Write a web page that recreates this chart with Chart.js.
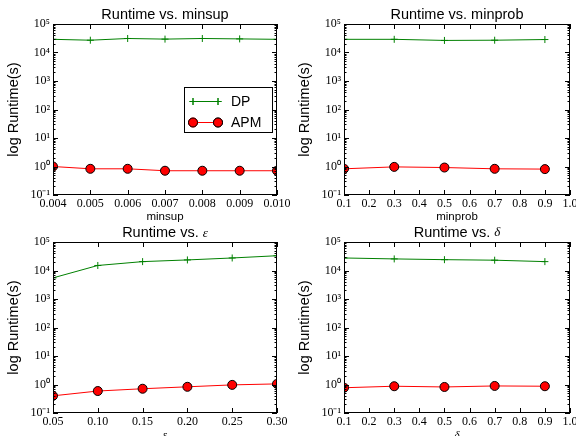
<!DOCTYPE html>
<html>
<head>
<meta charset="utf-8">
<script src="https://cdn.jsdelivr.net/npm/chart.js@4.4.1/dist/chart.umd.min.js"></script>
<style>
  html, body { margin: 0; padding: 0; background: #fff; }
  #wrap { position: relative; width: 576px; height: 436px; overflow: hidden; }
  #wrap canvas { position: absolute; left: 0; top: 0; }
</style>
</head>
<body>
<div id="wrap">
  <canvas id="c1" width="576" height="436"></canvas>
  <canvas id="c2" width="576" height="436"></canvas>
  <canvas id="c3" width="576" height="436"></canvas>
  <canvas id="c4" width="576" height="436"></canvas>
</div>
<script>
// data
const minsupX = [0.004, 0.005, 0.006, 0.007, 0.008, 0.009, 0.010];
const minsupDP = [29000, 27000, 31000, 29500, 31000, 30000, 29000];
const minsupAPM = [1.0, 0.83, 0.83, 0.71, 0.71, 0.71, 0.71];

const minprobX = [0.1, 0.3, 0.5, 0.7, 0.9];
const minprobDP = [29000, 29000, 26500, 27000, 28500];
const minprobAPM = [0.83, 0.97, 0.92, 0.83, 0.81];

const epsX = [0.05, 0.10, 0.15, 0.20, 0.25, 0.30];
const epsDP = [5500, 15000, 20500, 23500, 27500, 33000];
const epsAPM = [0.40, 0.59, 0.71, 0.83, 0.97, 1.05];

const deltaX = [0.1, 0.3, 0.5, 0.7, 0.9];
const deltaDP = [27500, 25500, 24000, 23000, 20500];
const deltaAPM = [0.77, 0.87, 0.82, 0.89, 0.87];

// tick values
const minsupTicks = [0.004, 0.005, 0.006, 0.007, 0.008, 0.009, 0.010];
const probTicks = [0.1, 0.2, 0.3, 0.4, 0.5, 0.6, 0.7, 0.8, 0.9, 1.0];
const epsTicks = [0.05, 0.10, 0.15, 0.20, 0.25, 0.30];
const logTicks = [0.1, 1, 10, 100, 1000, 10000, 100000];

const seriesNames = ["DP", "APM"];

const SANS = '"Liberation Sans", Arial, sans-serif';
const SERIF = '"Liberation Serif", "Times New Roman", serif';
const YAXIS_W = 40;
const XAXIS_H = 20;

const supMap = { "-": "\u207B", "0": "\u2070", "1": "\u00B9", "2": "\u00B2", "3": "\u00B3", "4": "\u2074", "5": "\u2075" };
function logLabel(v) {
    const e = String(Math.round(Math.log10(v)));
    return "10" + e.split("").map(c => supMap[c]).join("");
}

function drawRuns(ctx, runs, cx, cy) {
    let total = 0;
    runs.forEach(r => { ctx.font = r.font; total += ctx.measureText(r.text).width; });
    let x = cx - total / 2;
    ctx.textBaseline = "middle";
    ctx.textAlign = "left";
    runs.forEach(r => {
        ctx.font = r.font;
        ctx.fillText(r.text, x, cy + (r.dy || 0));
        x += ctx.measureText(r.text).width;
    });
}

// ticks inside on all sides, frame, titles, axis labels, legend
const decorPlugin = {
    id: "decor",
    afterDatasetsDraw(chart, args, opts) {
        const ctx = chart.ctx;
        const a = chart.chartArea;
        const xs = chart.scales.x, ys = chart.scales.y;
        ctx.save();
        ctx.strokeStyle = "#000";
        ctx.lineWidth = 1;
        ctx.beginPath();
        opts.xTicks.forEach(v => {
            const px = Math.round(xs.getPixelForValue(v)) + 0.5;
            ctx.moveTo(px, a.bottom); ctx.lineTo(px, a.bottom - 5);
            ctx.moveTo(px, a.top); ctx.lineTo(px, a.top + 5);
        });
        logTicks.forEach(v => {
            const py = Math.round(ys.getPixelForValue(v)) + 0.5;
            ctx.moveTo(a.left, py); ctx.lineTo(a.left + 5, py);
            ctx.moveTo(a.right, py); ctx.lineTo(a.right - 5, py);
        });
        for (let k = -1; k < 5; k++) {
            for (let m = 2; m <= 9; m++) {
                const py = Math.round(ys.getPixelForValue(m * Math.pow(10, k))) + 0.5;
                ctx.moveTo(a.left, py); ctx.lineTo(a.left + 2.5, py);
                ctx.moveTo(a.right, py); ctx.lineTo(a.right - 2.5, py);
            }
        }
        ctx.stroke();
        ctx.strokeRect(a.left + 0.5, a.top + 0.5, a.right - a.left - 1, a.bottom - a.top - 1);

        ctx.fillStyle = "#000";
        const cx = (a.left + a.right) / 2;
        drawRuns(ctx, opts.title, cx, a.top - 9);
        drawRuns(ctx, opts.xLabel, cx, a.bottom + 22);

        ctx.save();
        ctx.translate(a.left - 39, (a.top + a.bottom) / 2);
        ctx.rotate(-Math.PI / 2);
        ctx.font = "14.5px " + SANS;
        ctx.textAlign = "center";
        ctx.textBaseline = "middle";
        ctx.fillText("log Runtime(s)", 0, 0);
        ctx.restore();

        if (opts.legend) {
            const lx = a.left + 131, ly = a.top + 63, lw = 88, lh = 45;
            ctx.fillStyle = "#fff";
            ctx.fillRect(lx, ly, lw, lh);
            ctx.strokeRect(lx + 0.5, ly + 0.5, lw, lh);
            chart.data.datasets.forEach((ds, i) => {
                const y = ly + 14 + i * 21;
                const x0 = lx + 9, x1 = lx + 34;
                ctx.strokeStyle = ds.borderColor;
                ctx.lineWidth = 1;
                ctx.beginPath();
                ctx.moveTo(x0, y + 0.5); ctx.lineTo(x1, y + 0.5);
                ctx.stroke();
                [x0, x1].forEach(px => {
                    Chart.helpers.drawPoint(ctx, {
                        pointStyle: ds.pointStyle, radius: ds.pointRadius,
                        borderWidth: ds.pointBorderWidth, rotation: 0
                    }, px, y + 0.5);
                    ctx.fillStyle = ds.pointBackgroundColor || ds.borderColor;
                    ctx.strokeStyle = ds.pointBorderColor;
                    if (ds.pointStyle === "circle") ctx.fill();
                    ctx.stroke();
                });
                ctx.fillStyle = "#000";
                ctx.font = "14px " + SANS;
                ctx.textAlign = "left";
                ctx.textBaseline = "middle";
                ctx.fillText(ds.label, lx + 47, y + 1);
            });
        }
        ctx.restore();
    }
};

function pts(xv, yv) {
    return xv.map((x, i) => ({ x: x, y: yv[i] }));
}

function makePanel(id, box, xv, dp, apm, xr, decor) {
    const ctx = document.getElementById(id).getContext("2d");
    return new Chart(ctx, {
        type: "line",
        data: {
            datasets: [
                {
                    label: seriesNames[0],
                    data: pts(xv, dp),
                    borderColor: "#008000",
                    borderWidth: 1,
                    pointStyle: "cross",
                    pointRadius: 3.5,
                    pointBorderColor: "#008000",
                    pointBackgroundColor: "#008000",
                    pointBorderWidth: 1,
                    tension: 0,
                },
                {
                    label: seriesNames[1],
                    data: pts(xv, apm),
                    borderColor: "#ff0000",
                    borderWidth: 1,
                    pointStyle: "circle",
                    pointRadius: 4.5,
                    pointBorderColor: "#000000",
                    pointBackgroundColor: "#ff0000",
                    pointBorderWidth: 1,
                    tension: 0,
                },
            ],
        },
        options: {
            responsive: false,
            animation: false,
            events: [],
            layout: {
                padding: {
                    left: box.l - YAXIS_W,
                    top: box.t,
                    right: 576 - box.r,
                    bottom: 436 - box.b - XAXIS_H,
                },
            },
            scales: {
                x: {
                    type: "linear",
                    min: xr.min,
                    max: xr.max,
                    afterBuildTicks: s => { s.ticks = xr.ticks.map(v => ({ value: v })); },
                    afterFit: s => { s.height = XAXIS_H; s.paddingLeft = 0; s.paddingRight = 0; },
                    grid: { display: false, drawTicks: false },
                    border: { display: false },
                    ticks: {
                        autoSkip: false,
                        maxRotation: 0,
                        padding: 2,
                        color: "#000",
                        font: { family: SERIF, size: 12 },
                        callback: v => Number(v).toFixed(xr.digits),
                    },
                },
                y: {
                    type: "logarithmic",
                    min: 0.1,
                    max: 100000,
                    afterBuildTicks: s => { s.ticks = logTicks.map(v => ({ value: v })); },
                    afterFit: s => { s.width = YAXIS_W; },
                    grid: { display: false, drawTicks: false },
                    border: { display: false },
                    ticks: {
                        autoSkip: false,
                        padding: 3,
                        color: "#000",
                        font: { family: SERIF, size: 12 },
                        callback: v => logLabel(v),
                    },
                },
            },
            plugins: {
                legend: { display: false },
                title: { display: false },
                tooltip: { enabled: false },
                decor: decor,
            },
        },
        plugins: [decorPlugin],
    });
}

const titleFont = "14.5px " + SANS;
const xlabFont = "11.5px " + SANS;
const symFont = "italic 13px " + SERIF;
const symSmall = "italic 11px " + SERIF;

makePanel("c1", { l: 53, t: 24, r: 277, b: 195 }, minsupX, minsupDP, minsupAPM,
    { min: 0.004, max: 0.010, ticks: minsupTicks, digits: 3 },
    {
        xTicks: minsupTicks,
        title: [{ text: "Runtime vs. minsup", font: titleFont }],
        xLabel: [{ text: "minsup", font: xlabFont }],
        legend: true,
    });

makePanel("c2", { l: 344, t: 24, r: 570, b: 195 }, minprobX, minprobDP, minprobAPM,
    { min: 0.1, max: 1.0, ticks: probTicks, digits: 1 },
    {
        xTicks: probTicks,
        title: [{ text: "Runtime vs. minprob", font: titleFont }],
        xLabel: [{ text: "minprob", font: xlabFont }],
        legend: false,
    });

makePanel("c3", { l: 53, t: 242, r: 277, b: 413 }, epsX, epsDP, epsAPM,
    { min: 0.05, max: 0.30, ticks: epsTicks, digits: 2 },
    {
        xTicks: epsTicks,
        title: [{ text: "Runtime vs. ", font: titleFont }, { text: "\u03B5", font: symFont, dy: 1 }],
        xLabel: [{ text: "\u03B5", font: symSmall }],
        legend: false,
    });

makePanel("c4", { l: 344, t: 242, r: 570, b: 413 }, deltaX, deltaDP, deltaAPM,
    { min: 0.1, max: 1.0, ticks: probTicks, digits: 1 },
    {
        xTicks: probTicks,
        title: [{ text: "Runtime vs. ", font: titleFont }, { text: "\u03B4", font: symFont }],
        xLabel: [{ text: "\u03B4", font: symSmall }],
        legend: false,
    });
</script>
</body>
</html>
